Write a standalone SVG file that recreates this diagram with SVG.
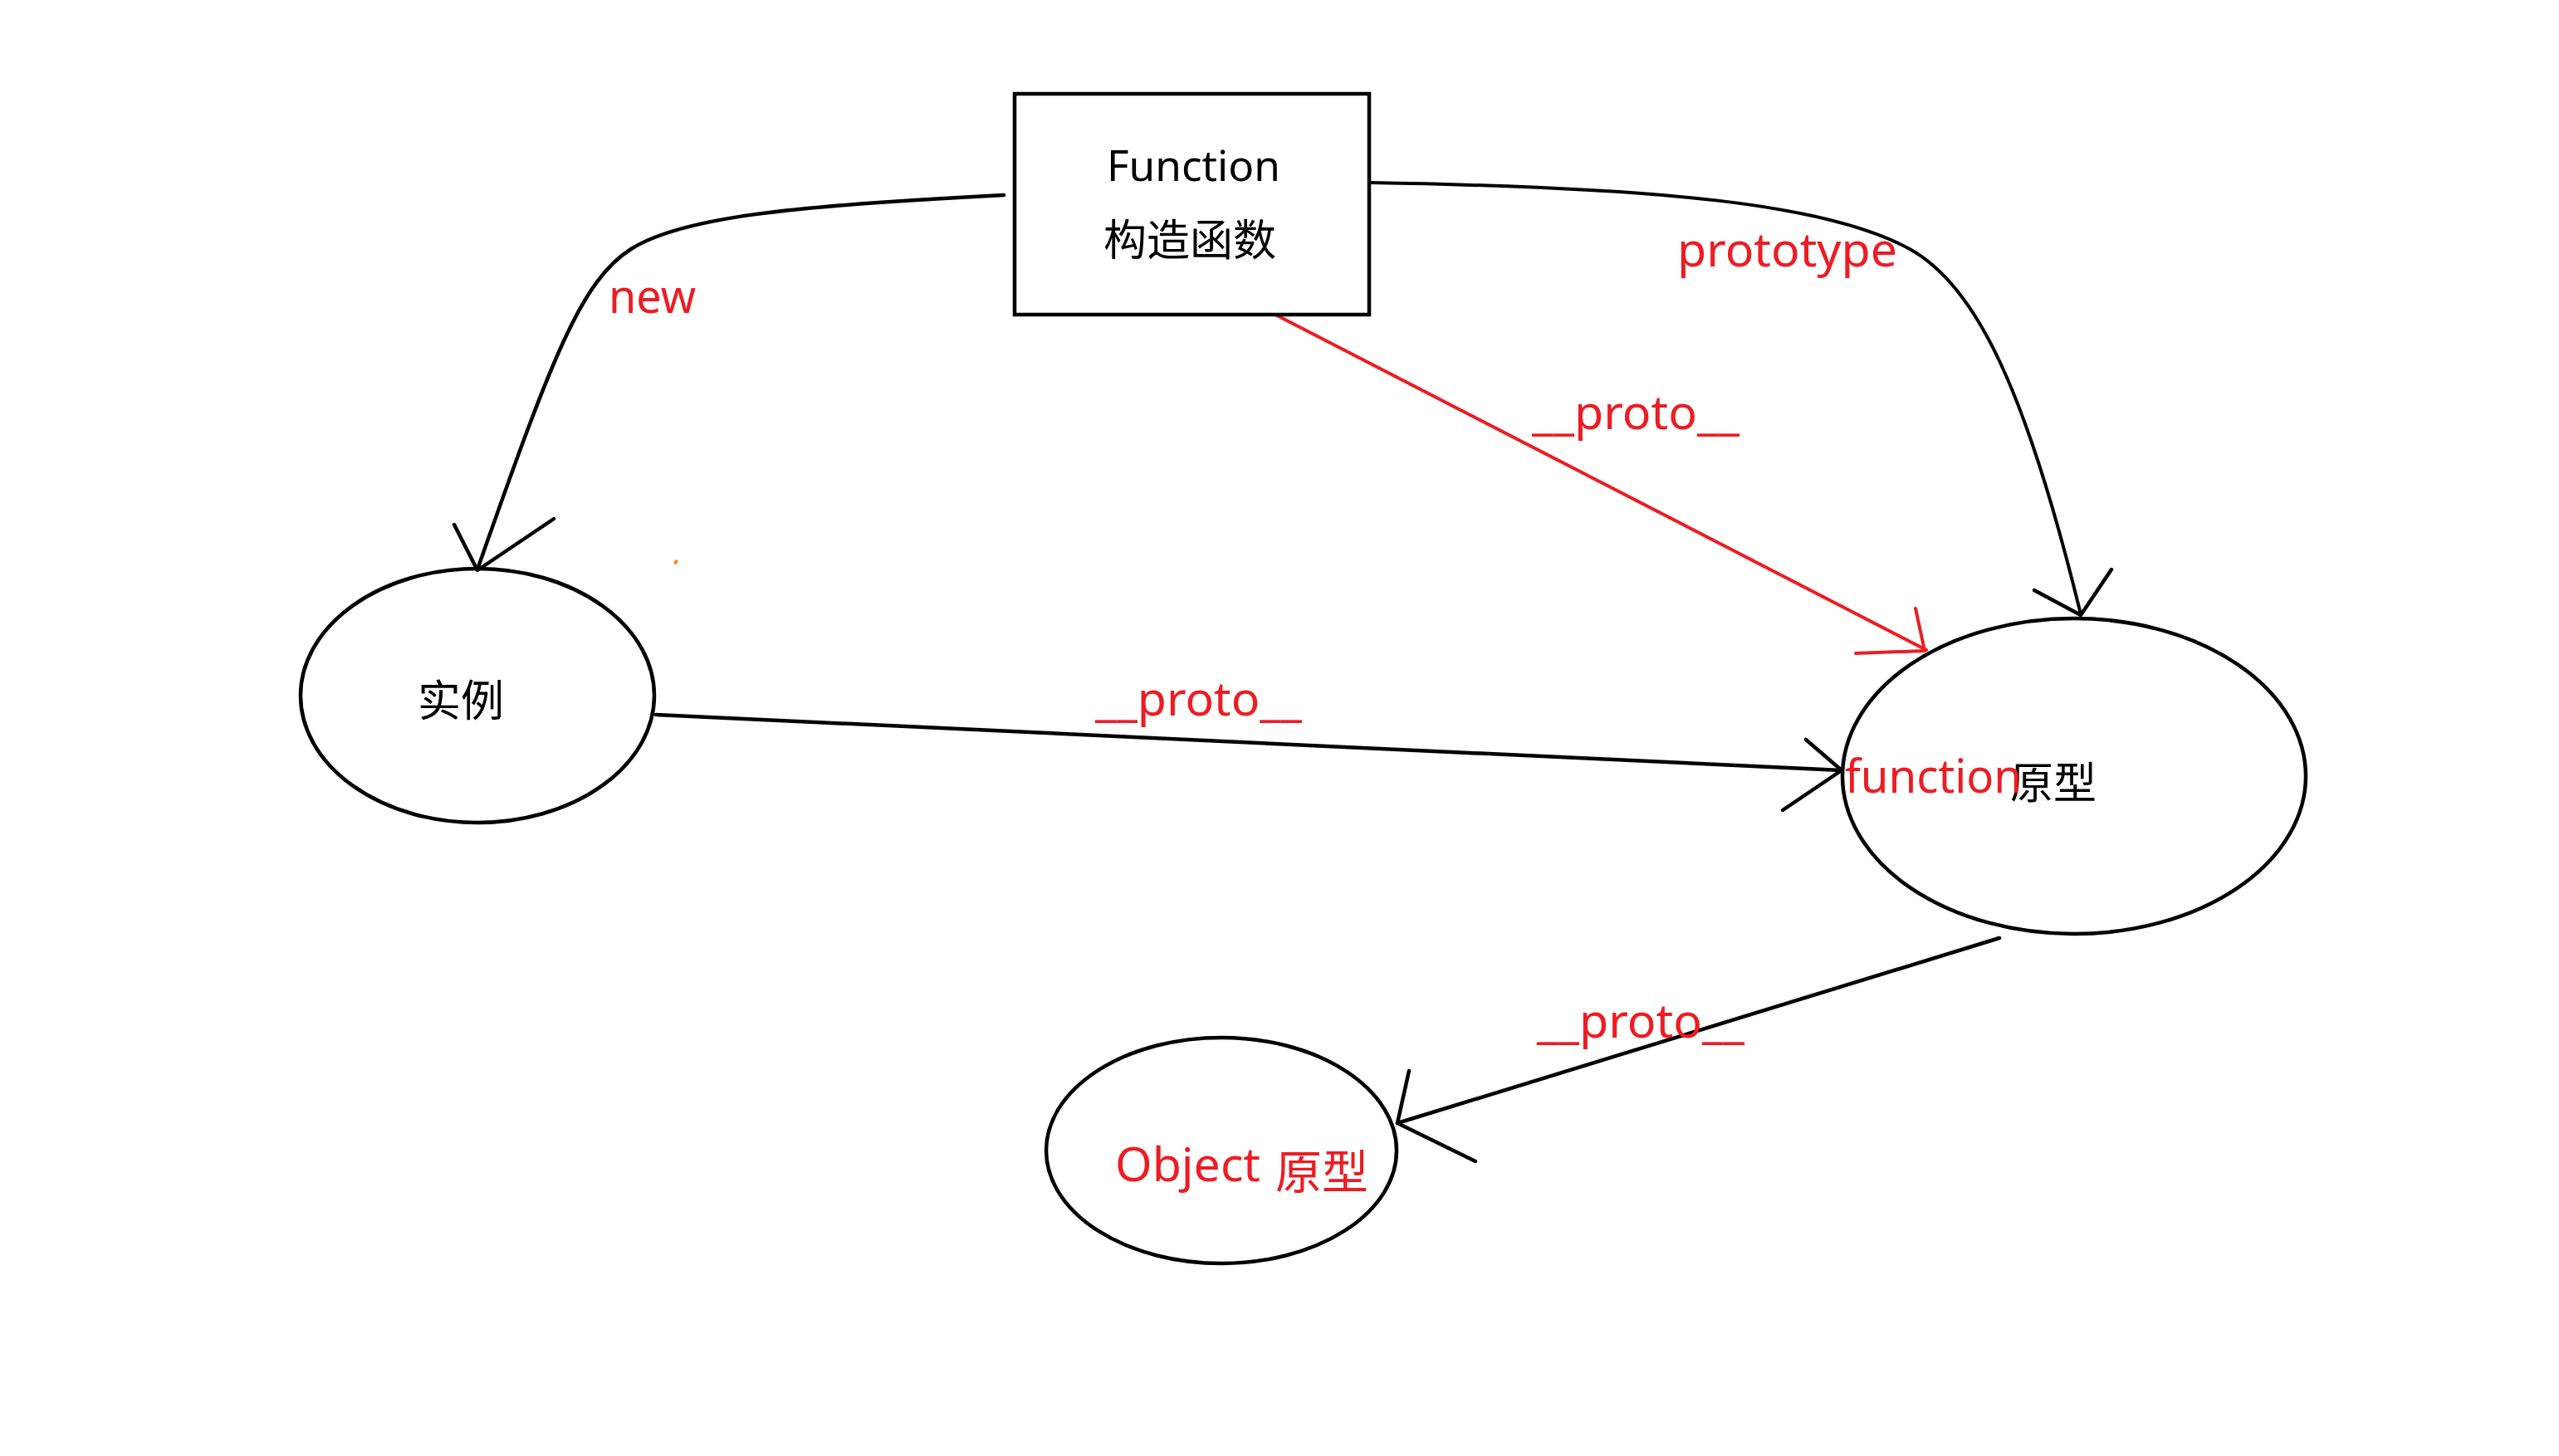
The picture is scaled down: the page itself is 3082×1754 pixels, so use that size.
<svg xmlns="http://www.w3.org/2000/svg" width="3082" height="1754" viewBox="0 0 3082 1754">
<style>
.shape{fill:none;stroke:#000;stroke-width:4.5}
.conn{fill:none;stroke:#000;stroke-width:4.5;stroke-linecap:round;stroke-linejoin:round}
.red{fill:none;stroke:#ed1c24;stroke-width:4;stroke-linecap:round;stroke-linejoin:round}
.lbl{font-family:"Noto Sans","Noto Sans CJK SC",sans-serif;fill:#ed1c24;font-size:56px}
.blk{font-family:"Noto Sans","Noto Sans CJK SC",sans-serif;fill:#000}
.cjk{font-family:"Noto Sans CJK SC","Noto Sans",sans-serif}
</style>
<rect width="3082" height="1754" fill="#fff"/>
<g id="connectors">
  <path class="conn" d="M1209,235 C950,248 820,262 760,300 C700,338 665,430 575,686"/>
  <path class="conn" d="M547,632 L575,687 L667,625"/>
  <path class="conn" style="stroke-width:4" d="M1651,220 C2000,226 2200,245 2300,300 C2380,344 2440,470 2506,740"/>
  <path class="conn" d="M2450,711 L2506,741 L2543,686"/>
  <path class="red" d="M1538,380 L2320,783"/>
  <path class="red" d="M2307,733 L2318,784 L2235,787"/>
  <path class="conn" d="M790,861 L2218,928"/>
  <path class="conn" d="M2175,891 L2218,928 L2147,976"/>
  <path class="conn" d="M2408,1130 L1683,1353"/>
  <path class="conn" d="M1697,1290 L1683,1353 L1777,1399"/>
  <text class="lbl" x="733" y="377" textLength="105" lengthAdjust="spacingAndGlyphs">new</text>
  <text class="lbl" x="2020" y="321" font-size="57" textLength="265" lengthAdjust="spacingAndGlyphs">prototype</text>
  <text class="lbl" x="1845" y="517" textLength="250" lengthAdjust="spacingAndGlyphs">__proto__</text>
  <text class="lbl" x="1319" y="862" textLength="249" lengthAdjust="spacingAndGlyphs">__proto__</text>
  <text class="lbl" x="1851" y="1250" textLength="250" lengthAdjust="spacingAndGlyphs">__proto__</text>
</g>
<g id="constructor">
  <rect class="shape" x="1222" y="113" width="427" height="266"/>
  <text class="blk" x="1333" y="218" font-size="51" textLength="209" lengthAdjust="spacingAndGlyphs">Function</text>
  <text class="blk cjk" x="1329" y="308" font-size="52">构造函数</text>
</g>
<g id="instance">
  <ellipse class="shape" cx="575" cy="838" rx="213" ry="153"/>
  <text class="blk cjk" x="503" y="863" font-size="52">实例</text>
</g>
<g id="prototype">
  <ellipse class="shape" cx="2498" cy="935" rx="279" ry="190"/>
  <text class="blk cjk" x="2421" y="962" font-size="52">原型</text>
  <text class="lbl" x="2222" y="955" textLength="213" lengthAdjust="spacingAndGlyphs">function</text>
</g>
<g id="object-prototype">
  <ellipse class="shape" cx="1471" cy="1386" rx="211" ry="136"/>
  <text class="lbl" x="1343" y="1423" font-size="57"><tspan textLength="175" lengthAdjust="spacingAndGlyphs">Object</tspan><tspan class="cjk" x="1536" y="1432">原型</tspan></text>
</g>
<ellipse cx="814" cy="677" rx="2" ry="3" fill="#ff7f27" transform="rotate(30 814 677)"/>
</svg>
